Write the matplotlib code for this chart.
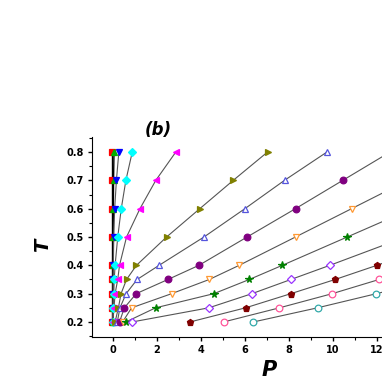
import numpy as np
import matplotlib
matplotlib.use("Agg")
import matplotlib.pyplot as plt
from matplotlib.ticker import MultipleLocator

# temperatures shared by all series
T = [0.2, 0.25, 0.3, 0.35, 0.4, 0.5, 0.6, 0.7, 0.8]

# pressure for each series
p_square = [-0.05, -0.05, -0.05, -0.05, -0.05, -0.05, -0.05, -0.05, -0.05]
p_tri_green = [0.0, 0.0, 0.0, 0.0, 0.0, 0.01, 0.02, 0.03, 0.05]
p_dtri_blue = [0.0, 0.0, 0.01, 0.01, 0.02, 0.04, 0.08, 0.16, 0.27]
p_dia_cyan = [0.0, 0.02, 0.04, 0.06, 0.1, 0.22, 0.38, 0.59, 0.88]
p_ltri_magenta = [0.0, 0.05, 0.1, 0.22, 0.3, 0.62, 1.23, 1.95, 2.86]
p_rtri_olive = [0.1, 0.25, 0.37, 0.62, 1.07, 2.44, 3.95, 5.47, 7.03]
p_utri_open = [0.2, 0.32, 0.6, 1.1, 2.1, 4.14, 6.0, 7.8, 9.73]
p_circ_purple = [0.3, 0.52, 1.06, 2.5, 3.91, 6.1, 8.3, 10.45, 12.6]
p_dtri_orange = [0.44, 0.85, 2.67, 4.38, 5.74, 8.3, 10.85, 13.4]
p_star = [0.59, 1.94, 4.59, 6.2, 7.7, 10.65, 13.6]
p_dia_open = [0.87, 4.36, 6.32, 8.09, 9.86, 13.3]
p_pentagon = [3.5, 6.03, 8.09, 10.1, 12.0, 15.6]
p_circ_pink = [5.03, 7.57, 9.97, 12.1, 14.2]
p_circ_teal = [6.38, 9.3, 11.98, 14.6]

# (values, marker, colour, filled, line colour)
series = [
    (p_square, 's', '#ff0000', True, 'black'),
    (p_tri_green, '^', '#00b000', True, 'black'),
    (p_dtri_blue, 'v', '#0000ff', True, '#555555'),
    (p_dia_cyan, 'D', '#00ffff', True, '#555555'),
    (p_ltri_magenta, '<', '#ff00ff', True, '#555555'),
    (p_rtri_olive, '>', '#808000', True, '#555555'),
    (p_utri_open, '^', '#5555dd', False, '#555555'),
    (p_circ_purple, 'o', '#800080', True, '#555555'),
    (p_dtri_orange, 'v', '#ff9933', False, '#555555'),
    (p_star, '*', '#008000', True, '#555555'),
    (p_dia_open, 'D', '#9933ff', False, '#555555'),
    (p_pentagon, 'p', '#800000', True, '#555555'),
    (p_circ_pink, 'o', '#ff5599', False, '#555555'),
    (p_circ_teal, 'o', '#33aaaa', False, '#555555'),
]

fig = plt.figure(figsize=(3.82, 3.82), dpi=100)
ax = fig.add_axes([92 / 382, 45 / 382, 305 / 382, 200 / 382])

for vals, mk, col, filled, lcol in series:
    t = T[:len(vals)]
    ax.plot(vals, t, color=lcol, lw=0.8 if lcol != 'black' else 1.0, zorder=1)
    ms = 5.5 if mk == '*' else 4.8
    if mk == 'D':
        ms = 4.0
    ax.plot(vals, t, linestyle='none', marker=mk, ms=ms,
            markerfacecolor=col if filled else 'white',
            markeredgecolor=col, markeredgewidth=0.9, zorder=2)

ax.set_xlim(-0.95, -0.95 + 305 / 22)
ax.set_ylim(0.147, 0.853)
ax.spines['top'].set_visible(False)
ax.spines['right'].set_visible(False)
ax.xaxis.set_major_locator(MultipleLocator(2))
ax.xaxis.set_minor_locator(MultipleLocator(1))
ax.yaxis.set_major_locator(MultipleLocator(0.1))
ax.yaxis.set_minor_locator(MultipleLocator(0.05))
ax.tick_params(which='major', length=3, width=1, labelsize=7, pad=3)
ax.tick_params(which='minor', length=2, width=0.8)
ax.set_xticks([0, 2, 4, 6, 8, 10, 12])
ax.set_yticks([0.2, 0.3, 0.4, 0.5, 0.6, 0.7, 0.8])
for lab in ax.get_xticklabels() + ax.get_yticklabels():
    lab.set_fontweight('bold')

fig.text(43 / 382, 1 - 245 / 382, 'T', rotation=90, fontsize=14,
         fontweight='bold', style='italic', ha='center', va='center')
fig.text(269 / 382, 1 - 370 / 382, 'P', fontsize=15,
         fontweight='bold', style='italic', ha='center', va='center')
fig.text(158 / 382, 1 - 130 / 382, '(b)', fontsize=12,
         fontweight='bold', style='italic', ha='center', va='center')

fig.savefig('out.png', dpi=100)
